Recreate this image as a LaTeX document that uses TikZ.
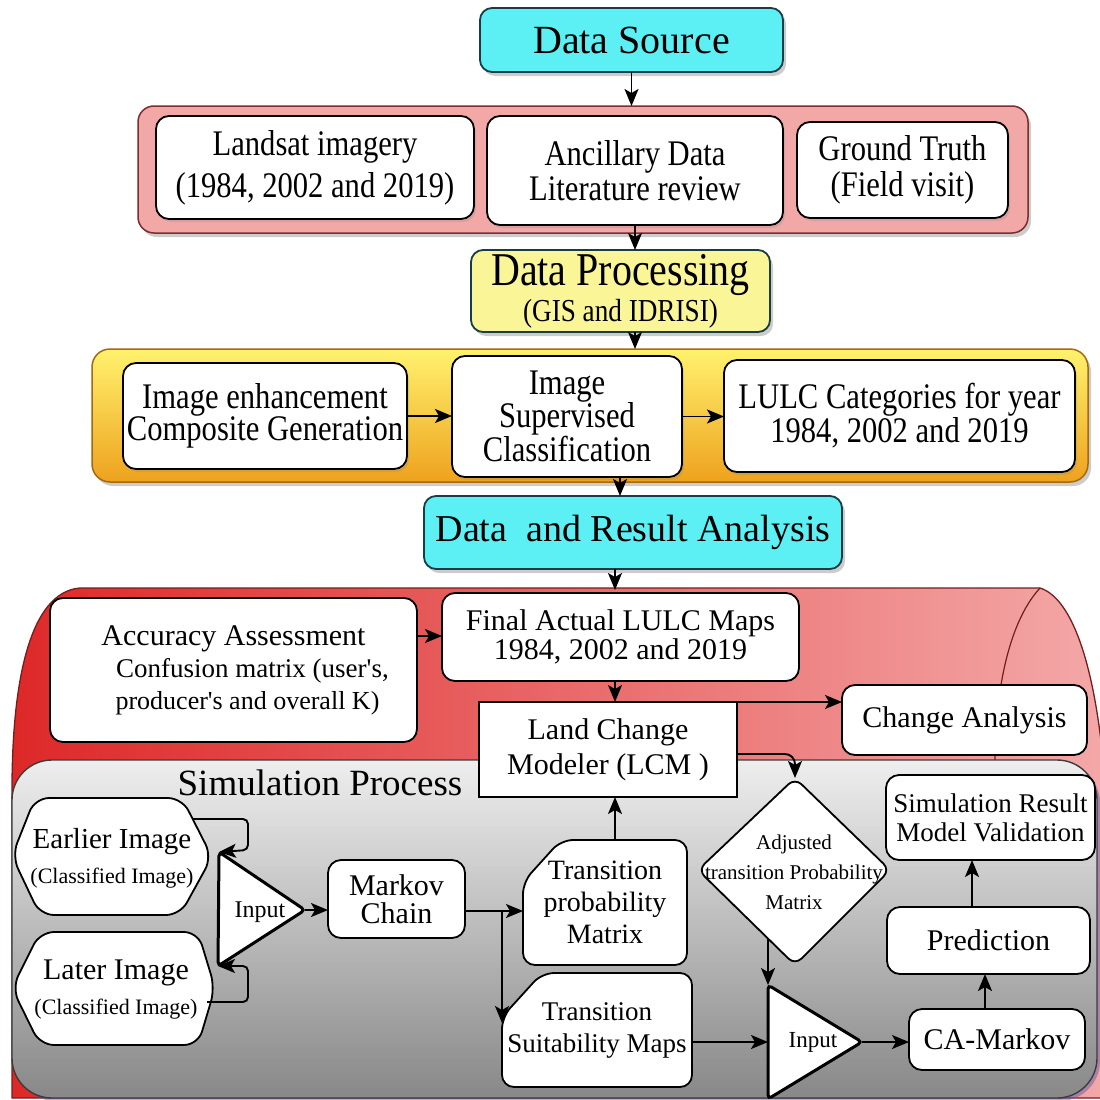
\documentclass[tikz,border=0pt]{standalone}
\usepackage{fontspec}
\setmainfont{Liberation Serif}
\newfontfamily\condfont[FakeStretch=0.85]{Liberation Serif}
\usetikzlibrary{arrows.meta,shadows,calc}
\newcommand\setfs[2]{\fontsize{#1}{#2}\selectfont}

\pgfdeclarelayer{containers}
\pgfdeclarelayer{back}
\pgfsetlayers{containers,back,main}

\definecolor{cyanfill}{RGB}{92,240,245}
\definecolor{cyanedge}{RGB}{25,60,70}
\definecolor{pinkfill}{RGB}{243,168,168}
\definecolor{pinkedge}{RGB}{125,45,45}
\definecolor{dpfill}{RGB}{250,245,150}
\definecolor{ytop}{RGB}{255,242,110}
\definecolor{ymid}{RGB}{252,214,52}
\definecolor{ybot}{RGB}{238,162,30}
\definecolor{yedge}{RGB}{165,105,20}
\definecolor{redleft}{RGB}{222,40,40}
\definecolor{redright}{RGB}{244,168,168}
\definecolor{rededge}{RGB}{115,30,30}
\definecolor{graytop}{RGB}{238,238,238}
\definecolor{graybot}{RGB}{136,136,136}
\definecolor{grayedge}{RGB}{60,60,60}

\tikzset{
  every node/.style={inner sep=0pt, outer sep=0pt},
  lbl/.style={align=center},
  wbox/.style={draw=black, fill=white, line width=1.8pt, rounded corners=13pt, align=center},
  sqbox/.style={draw=black, fill=white, line width=1.8pt, align=center},
  cutbox/.style={draw=black, fill=white, line width=1.8pt, rounded corners=12pt},
  hexbox/.style={draw=black, fill=white, line width=1.8pt, rounded corners=14pt},
  tribox/.style={draw=black, fill=white, line width=3pt, rounded corners=4pt},
  diabox/.style={draw=black, fill=white, line width=1.8pt, rounded corners=9pt},
  hardshadow/.style={drop shadow={shadow xshift=3pt, shadow yshift=-4pt, opacity=0.4}},
  softshadow/.style={drop shadow={shadow xshift=2pt, shadow yshift=-3pt, opacity=0.22}},
  arr/.style={line width=1.9pt, -{Stealth[length=17pt,width=14pt,inset=4pt]}},
}

\begin{document}
\begin{tikzpicture}[x=1pt, y=-1pt]
\path[use as bounding box] (0,0) rectangle (1100,1100);

% ---------- top block ----------
\node[wbox, fill=cyanfill, draw=cyanedge, hardshadow, rounded corners=12pt,
      minimum width=303, minimum height=64, font=\setfs{40}{44}] (src) at (631.5,40) {Data Source};

\node[draw=pinkedge, fill=pinkfill, line width=1.5pt, rounded corners=16pt, hardshadow,
      minimum width=890, minimum height=127] (pink) at (583,169.5) {};
\node[wbox, softshadow, minimum width=318, minimum height=103, font=\condfont\setfs{36}{42}]
      (landsat) at (315,167.5) {Landsat imagery\\(1984, 2002 and 2019)};
\node[wbox, softshadow, minimum width=296, minimum height=109, font=\condfont\setfs{36}{35}]
      (anc) at (635,170.5) {Ancillary Data\\Literature review};
\node[wbox, softshadow, minimum width=211, minimum height=96, font=\condfont\setfs{36}{36}]
      (ground) at (902.5,170) {Ground Truth\\(Field visit)};

\node[wbox, fill=dpfill, draw=cyanedge, hardshadow, rounded corners=12pt,
      minimum width=299, minimum height=82, font=\condfont\setfs{32}{36}]
      (dp) at (620.5,291) {{\setfs{47}{47}Data Processing}\\(GIS and IDRISI)};

\node[draw=yedge, line width=1.5pt, rounded corners=18pt, top color=ytop, middle color=ymid,
      bottom color=ybot, hardshadow, minimum width=996, minimum height=133] (yel) at (590,415.5) {};
\node[wbox, softshadow, minimum width=284, minimum height=106, font=\condfont\setfs{36}{31}]
      (enh) at (265,416) {Image enhancement\\Composite Generation};
\node[wbox, softshadow, minimum width=230, minimum height=121, font=\condfont\setfs{36}{32}]
      (isc) at (567,416.5) {Image\\Supervised\\Classification};
\node[wbox, softshadow, minimum width=351, minimum height=112, font=\condfont\setfs{36}{34}]
      (lulc) at (899.5,416) {LULC Categories for year\\1984, 2002 and 2019};

\node[wbox, fill=cyanfill, draw=cyanedge, hardshadow, rounded corners=12pt,
      minimum width=418, minimum height=73, font=\setfs{38}{42}] (dra) at (633,532.5) {Data\ \ and Result Analysis};

% ---------- analysis and simulation containers ----------
\begin{pgfonlayer}{containers}
  \shade[left color=redleft, right color=redright, draw=rededge, line width=1.3pt]
    (12,1098) -- (12,790) .. controls (12,680) and (30,592) .. (80,588)
    -- (1040,588) .. controls (1078,600) and (1100,690) .. (1106,800) -- (1106,1098) -- cycle;
  \draw[rededge, line width=1.2pt] (1040,588) .. controls (1006,625) and (995,700) .. (995,762);
  \shade[top color=graytop, bottom color=graybot, draw=grayedge, line width=1.4pt,
         rounded corners=40pt, drop shadow={shadow xshift=3pt, shadow yshift=-3pt, opacity=0.45, fill=blue!35!gray}]
    (12,760) rectangle (1097,1098);
\end{pgfonlayer}
\coordinate (redtop) at (615,590);

\node[wbox, minimum width=367, minimum height=144, font=\setfs{26}{32}] (acc) at (233.5,670)
  {{\setfs{30}{32}Accuracy Assessment}\\\hspace*{38pt}{\setfs{27}{32}Confusion matrix (user\textquotesingle s,}\\\hspace*{28pt}producer\textquotesingle s and overall K)};
\node[wbox, minimum width=357, minimum height=88, font=\setfs{30}{29}] (final) at (620.5,637)
  {Final Actual LULC Maps\\1984, 2002 and 2019};
\node[sqbox, minimum width=258, minimum height=95, font=\setfs{30}{35}] (lcm) at (608,749.5)
  {Land Change\\Modeler (LCM )};
\node[wbox, minimum width=245, minimum height=70, font=\setfs{30}{34}] (chg) at (964.5,720) {Change Analysis};

\node[font=\setfs{37}{40}] (simtitle) at (320,783) {Simulation Process};

% image inputs (hexagons)
\node[lbl, font=\setfs{22}{35}] (early) at (112,858) {{\setfs{29}{35}Earlier Image}\\(Classified Image)};
\node[lbl, font=\setfs{22}{35}] (late) at (116,990) {{\setfs{30}{35}Later Image}\\(Classified Image)};
\coordinate (eout) at (193,819);
\coordinate (lout) at (207,1002);

% first input triangle
\coordinate (in1top) at (219,852);
\coordinate (in1bot) at (218,966);
\coordinate (in1tip) at (305,910);
\node[font=\setfs{24}{28}] (in1) at (260,912) {Input};

\node[wbox, minimum width=137, minimum height=78, font=\setfs{30}{28}] (mkv) at (396.5,899) {Markov\\Chain};
\node[lbl, minimum width=164, minimum height=125, font=\setfs{28}{32}] (tpm) at (605,902.5)
  {Transition\\probability\\Matrix};
\node[lbl, minimum width=190, minimum height=114, font=\setfs{27}{32}] (tsm) at (597,1030)
  {Transition\\Suitability Maps};

% adjusted matrix (diamond)
\coordinate (dtop) at (795,778);
\coordinate (dright) at (890,870);
\coordinate (dbot) at (795,965);
\coordinate (dleft) at (698,870);
\coordinate (dout) at (768,938);
\node[lbl, font=\setfs{21}{30}] (adj) at (794,872) {Adjusted\\transition Probability\\Matrix};

% second input triangle
\coordinate (in2top) at (768,985);
\coordinate (in2bot) at (768,1099);
\coordinate (in2tip) at (862,1042);
\coordinate (in2left) at (768,1042);
\node[font=\setfs{23}{28}] (in2) at (813,1042) {Input};

\node[wbox, minimum width=209, minimum height=85, font=\setfs{27}{29}] (simres) at (990.5,817.5)
  {Simulation Result\\Model Validation};
\node[wbox, minimum width=203, minimum height=67, font=\setfs{30}{34}] (pred) at (988.5,940.5) {Prediction};
\node[wbox, minimum width=176, minimum height=61, font=\setfs{30}{34}] (cam) at (997,1039.5) {CA-Markov};

% outlines of the non-rectangular boxes
\begin{pgfonlayer}{back}
  \draw[cutbox] ($(tpm.north west)+(0,42)$) -- ($(tpm.north west)+(38,0)$) -- (tpm.north east)
    -- (tpm.south east) -- (tpm.south west) -- cycle;
  \draw[cutbox] ($(tsm.north west)+(0,44)$) -- ($(tsm.north west)+(40,0)$) -- (tsm.north east)
    -- (tsm.south east) -- (tsm.south west) -- cycle;
  \draw[hexbox] (35,798) -- (182,798) -- (212,857) -- (180,915) -- (40,915) -- (12,856) -- cycle;
  \draw[hexbox] (40,932) -- (198,932) -- (215,988) -- (198,1045) -- (40,1045) -- (12,988) -- cycle;
  \draw[tribox] (in1top) -- (in1tip) -- (in1bot) -- cycle;
  \draw[tribox] (in2top) -- (in2tip) -- (in2bot) -- cycle;
  \draw[diabox] (dtop) -- (dright) -- (dbot) -- (dleft) -- cycle;
\end{pgfonlayer}

% ---------- connectors ----------
\draw[arr] (src.south) -- (src.south |- pink.north);
\draw[arr] (anc.south) -- (anc.south |- dp.north);
\draw[arr] ([xshift=14.5pt]dp.south) -- ([xshift=14.5pt]dp.south |- yel.north);
\draw[arr] (enh.east) -- (enh.east -| isc.west);
\draw[arr] (isc.east) -- (isc.east -| lulc.west);
\draw[arr] ([xshift=53pt]isc.south) -- ([xshift=53pt]isc.south |- dra.north);
\draw[arr] (dra.south -| redtop) -- (redtop);

\draw[arr] ([yshift=34pt]acc.east) -- ([yshift=34pt]acc.east -| final.west);
\draw[arr] ([xshift=-5.5pt]final.south) -- ([xshift=-5.5pt]final.south |- lcm.north);
\draw[arr] (lcm.north east) -- (lcm.north east -| chg.west);
\draw[arr, rounded corners=10pt] ([yshift=-4.5pt]lcm.east) -| (dtop);

\draw[arr, rounded corners=5pt] (eout) -- (248,819) -- (248,850) -- (in1top);
\draw[arr, rounded corners=5pt] (lout) -- (248,1002) -- (248,966) -- (in1bot);
\draw[arr] (in1tip) -- (in1tip -| mkv.west);
\draw[arr] ([yshift=-12pt]mkv.east) -- ([yshift=-12pt]mkv.east -| tpm.west);
\draw[arr] ([yshift=-12pt]mkv.east -| tsm.west) -- ($(tsm.north west)+(0,50)$);
\draw[arr] ([xshift=10pt]tpm.north) -- ([xshift=10pt]tpm.north |- lcm.south);

\draw[arr] (dout) -- (in2top);
\draw[arr] (tsm.east |- in2left) -- (in2left);
\draw[arr] (in2tip) -- (in2tip -| cam.west);
\draw[arr] ([xshift=-12pt]cam.north) -- ([xshift=-12pt]cam.north |- pred.south);
\draw[arr] ([xshift=-16.5pt]pred.north) -- ([xshift=-16.5pt]pred.north |- simres.south);
\end{tikzpicture}
\end{document}
